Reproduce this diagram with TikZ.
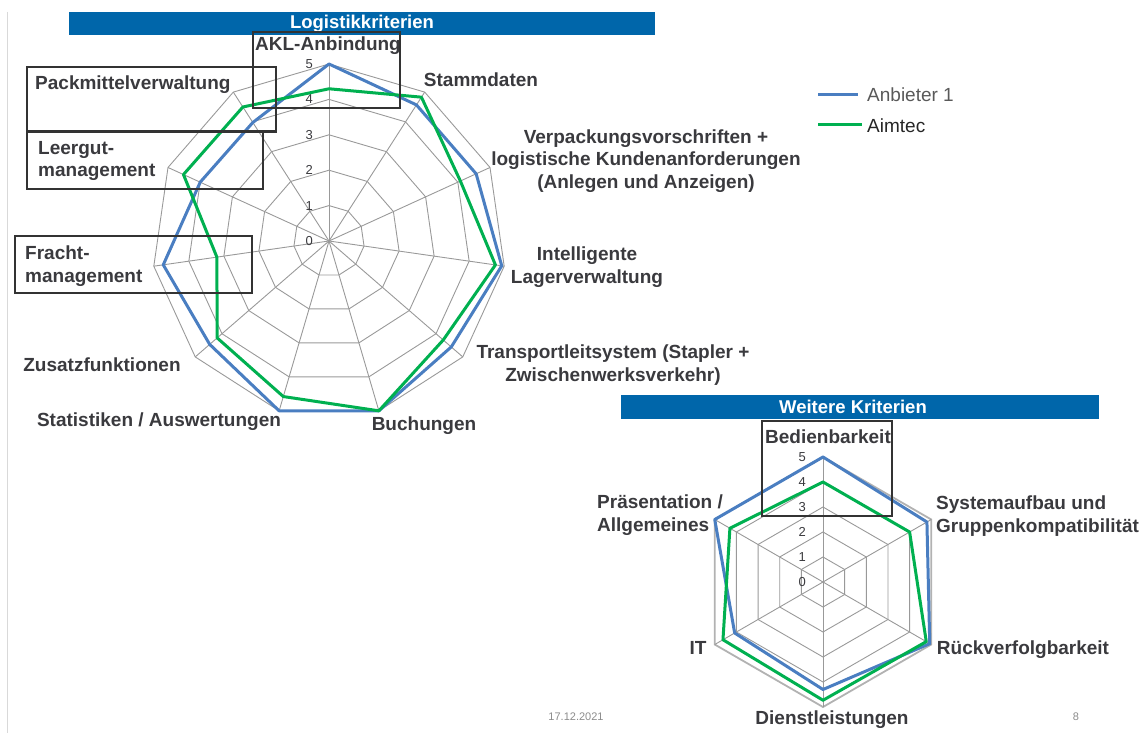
\documentclass[tikz,border=0pt]{standalone}
\usepackage{fontspec}
\setmainfont{Liberation Sans}
\usetikzlibrary{positioning}

\definecolor{anbieter}{RGB}{74,126,193}
\definecolor{aimtec}{RGB}{0,176,80}
\definecolor{kopfblau}{RGB}{0,102,170}
\definecolor{textgrau}{RGB}{58,58,62}

\tikzset{
  gitter/.style={draw=black!40, line width=0.9pt},
  wert/.style={line width=3pt, line join=round},
  achse/.style={font=\fontsize{19}{22.5}\selectfont\bfseries, text=textgrau, inner sep=0pt},
  skala/.style={font=\fontsize{13}{13}\selectfont, text=textgrau, anchor=east, inner sep=0pt},
  rahmen/.style={draw=black!80, line width=2.4pt},
  kopf/.style={fill=kopfblau, text=white, font=\fontsize{18.5}{19}\selectfont\bfseries, inner sep=0pt},
  legende/.style={font=\fontsize{19}{20}\selectfont, anchor=west, inner sep=0pt},
}

\begin{document}
\begin{tikzpicture}[x=1pt,y=-1pt]
        \useasboundingbox (0,0) rectangle (1141,733);
        \draw [black!15, line width=0.8pt] (7,12) -- (7,733);

        % Logistikkriterien
        \fill [kopfblau] (69,12) rectangle (655,35);
        \node [kopf] (kopf1) at (362,23.5) {Logistikkriterien};

        \begin{scope}[shift={(329,241)}]
        \foreach \r in {1,...,5}
            \draw [gitter] (-90:\r*35.4) \foreach \k in {1,...,10} { -- (\k*360/11-90:\r*35.4) } -- cycle;
        \foreach \k in {0,...,10}
            \draw [gitter] (0,0) -- (\k*360/11-90:177);
        \foreach \r in {0,...,5}
            \node [skala] (s1\r) at (-16,-\r*35.4) {\r};

        \draw [wert, anbieter] (-90:5*35.4) \foreach \v [count=\k] in {4.57,4.57,4.93,4.57,5,5,4.46,4.73,4.0,3.98} { -- (\k*360/11-90:\v*35.4) } -- cycle;
        \draw [wert, aimtec] (-90:4.3*35.4) \foreach \v [count=\k] in {4.83,4.08,4.75,4.27,5,4.58,4.18,3.2,4.52,4.5} { -- (\k*360/11-90:\v*35.4) } -- cycle;
        \end{scope}

        \node [achse] (akl) at (328,46) {AKL-Anbindung};
        \node [achse] (stamm) at (481,80) {Stammdaten};
        \node [achse, align=center] (verpack) at (646,161) {Verpackungsvorschriften +\\logistische Kundenanforderungen\\(Anlegen und Anzeigen)};
        \node [achse, align=center] (lager) at (587,267) {Intelligente\\Lagerverwaltung};
        \node [achse, align=center] (transport) at (613,365) {Transportleitsystem (Stapler +\\Zwischenwerksverkehr)};
        \node [achse] (buchung) at (424,426) {Buchungen};
        \node [achse] (statistik) at (159,422) {Statistiken / Auswertungen};
        \node [achse] (zusatz) at (102,365) {Zusatzfunktionen};
        \node [achse, align=left, anchor=west] (fracht) at (25,266) {Fracht-\\management};
        \node [achse, align=left, anchor=west] (leergut) at (38,161) {Leergut-\\management};
        \node [achse, anchor=west] (packmittel) at (35,85) {Packmittelverwaltung};

        \draw [rahmen] (253,32) rectangle (400,108);
        \draw [rahmen] (27,67) rectangle (276,131.5);
        \draw [rahmen] (27,131.5) rectangle (263,189);
        \draw [rahmen] (15,236) rectangle (252,293);

        % Legende
        \draw [wert, anbieter] (818,95) -- (858,95);
        \node [legende, text=black!65] (leg1) at (867,95) {Anbieter 1};
        \draw [wert, aimtec] (818,125) -- (862,125);
        \node [legende, text=black!85] (leg2) at (867,126) {Aimtec};

        % Weitere Kriterien
        \fill [kopfblau] (621,395) rectangle (1099,419);
        \node [kopf] (kopf2) at (853,407) {Weitere Kriterien};

        \begin{scope}[shift={(823,582)}]
        \foreach \r in {1,...,4}
            \draw [gitter] (-90:\r*25) \foreach \k in {1,...,5} { -- (\k*60-90:\r*25) } -- cycle;
        \draw [gitter, draw=black!30, line width=1.8pt] (-90:125) \foreach \k in {1,...,5} { -- (\k*60-90:125) } -- cycle;
        \foreach \k in {0,...,5}
            \draw [gitter] (0,0) -- (\k*60-90:125);
        \foreach \r in {0,...,5}
            \node [skala] (s2\r) at (-17,-\r*25) {\r};

        \draw [wert, anbieter] (-90:5*25) \foreach \v [count=\k] in {4.8,4.93,4.3,4.08,5} { -- (\k*60-90:\v*25) } -- cycle;
        \draw [wert, aimtec] (-90:4*25) \foreach \v [count=\k] in {4.0,4.77,4.73,4.62,4.3} { -- (\k*60-90:\v*25) } -- cycle;
        \end{scope}

        \node [achse] (bedien) at (828,437) {Bedienbarkeit};
        \node [achse, align=left, anchor=west] (system) at (936,516) {Systemaufbau und\\Gruppenkompatibilität};
        \node [achse] (rueck) at (1023,650) {Rückverfolgbarkeit};
        \node [achse] (dienst) at (832,720) {Dienstleistungen};
        \node [achse] (it) at (698,648) {IT};
        \node [achse, align=left, anchor=west] (praes) at (597,515) {Präsentation /\\Allgemeines};

        \draw [rahmen] (762,421) rectangle (892,516);

        % Fusszeile
        \node [font=\fontsize{11}{12}\selectfont, text=black!45] (datum) at (576,717) {17.12.2021};
        \node [font=\fontsize{11}{12}\selectfont, text=black!45] (seite) at (1076,717) {8};
\end{tikzpicture}
\end{document}
